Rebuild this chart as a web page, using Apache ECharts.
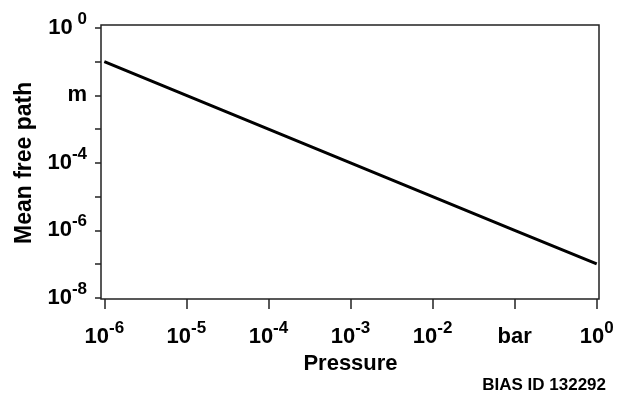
<!DOCTYPE html>
<html>
<head>
<meta charset="utf-8">
<script src="https://cdn.jsdelivr.net/npm/echarts@6/dist/echarts.min.js"></script>
<style>
html, body { margin: 0; padding: 0; background: #fff; }
#chart { width: 626px; height: 395px; }
</style>
</head>
<body>
<div id="chart"></div>
<script>
// Data (log-log, slope -1)
const pressure = [1e-6, 1e-5, 1e-4, 1e-3, 1e-2, 1e-1, 1e0];           // bar
const meanFreePath = [1e-1, 1e-2, 1e-3, 1e-4, 1e-5, 1e-6, 1e-7];      // m

// Tick labels (exponent -> label, "a^b" means a with superscript b)
const xTickExponents = [-6, -5, -4, -3, -2, -1, 0];
const xTickLabels = ['10^-6', '10^-5', '10^-4', '10^-3', '10^-2', 'bar', '10^0'];
const yTickExponents = [0, -2, -4, -6, -8];
const yTickLabels = ['10^ 0', 'm', '10^-4', '10^-6', '10^-8'];

const xAxisName = 'Pressure';
const yAxisName = 'Mean free path';
const creditText = 'BIAS ID 132292';

const FONT = "'Liberation Sans', Arial, Helvetica, sans-serif";

function richLabel(text) {
  if (text.indexOf('^') < 0) return '{b|' + text + '}';
  const parts = text.split('^');
  return '{b|' + parts[0] + '}{s|' + parts[1] + '}';
}
function makeFormatter(exps, labels) {
  return function (value) {
    const e = Math.round(Math.log10(value));
    const i = exps.indexOf(e);
    return i < 0 ? '' : richLabel(labels[i]);
  };
}
const rich = {
  b: { fontFamily: FONT, fontSize: 22, fontWeight: 'bold', color: '#000', lineHeight: 34 },
  s: { fontFamily: FONT, fontSize: 17, fontWeight: 'bold', color: '#000', lineHeight: 15, verticalAlign: 'top' }
};

const chart = echarts.init(document.getElementById('chart'), null, { renderer: 'canvas' });

chart.setOption({
  animation: false,
  backgroundColor: '#fff',
  title: {
    text: creditText,
    right: 20,
    top: 377,
    padding: 0,
    textStyle: { fontFamily: FONT, fontSize: 17, fontWeight: 'bold', color: '#000' }
  },
  grid: [
    { left: 104.3, top: 28, width: 492.4, height: 269.7, show: false, containLabel: false },
    { left: 101, top: 25, width: 498, height: 274, show: true, borderColor: '#222', borderWidth: 1.5, backgroundColor: 'transparent', containLabel: false }
  ],
  xAxis: [
    {
      type: 'log', logBase: 10, gridIndex: 0,
      min: 1e-6, max: 1, interval: 1, splitNumber: 6,
      offset: 1.3,
      axisLine: { show: false },
      axisTick: { show: true, length: 10, inside: false, lineStyle: { color: '#222', width: 1.5 } },
      minorTick: { show: false },
      splitLine: { show: false },
      axisLabel: { margin: 21, formatter: makeFormatter(xTickExponents, xTickLabels), rich: rich, showMinLabel: true, showMaxLabel: true },
      name: xAxisName, nameLocation: 'middle', nameGap: 54,
      nameTextStyle: { fontFamily: FONT, fontSize: 22, fontWeight: 'bold', color: '#000' }
    },
    { type: 'value', gridIndex: 1, show: false, min: 0, max: 1 }
  ],
  yAxis: [
    {
      type: 'log', logBase: 10, gridIndex: 0,
      min: 1e-8, max: 1, interval: 1, splitNumber: 8,
      offset: 3.3,
      axisLine: { show: false },
      axisTick: { show: true, length: 6, inside: false, lineStyle: { color: '#222', width: 1.5 } },
      minorTick: { show: false },
      splitLine: { show: false },
      axisLabel: { margin: 14, formatter: makeFormatter(yTickExponents, yTickLabels), rich: rich, showMinLabel: true, showMaxLabel: true },
      name: yAxisName, nameLocation: 'middle', nameGap: 63, nameRotate: 90,
      nameTextStyle: { fontFamily: FONT, fontSize: 23, fontWeight: 'bold', color: '#000' }
    },
    { type: 'value', gridIndex: 1, show: false, min: 0, max: 1 }
  ],
  series: [
    {
      type: 'line',
      xAxisIndex: 0, yAxisIndex: 0,
      data: pressure.map((p, i) => [p, meanFreePath[i]]),
      showSymbol: false, symbol: 'none',
      lineStyle: { color: '#000', width: 3 },
      silent: true
    }
  ]
});
</script>
</body>
</html>
